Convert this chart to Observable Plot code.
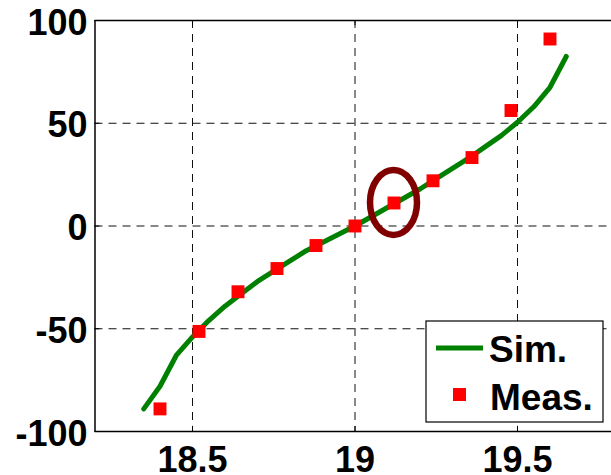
<!DOCTYPE html>
<html>
<head>
<meta charset="utf-8">
<script src="https://cdn.jsdelivr.net/npm/d3@7"></script>
<script src="https://cdn.jsdelivr.net/npm/@observablehq/plot@0.6"></script>
<style>
  html, body { margin: 0; padding: 0; background: #fff; overflow: hidden; }
  #chart { position: absolute; left: 0; top: 0; width: 611px; height: 475px; overflow: hidden; }
  #chart svg { display: block; font-family: "Liberation Sans", Arial, sans-serif; max-width: none !important; }
</style>
</head>
<body>
<div id="chart"></div>
<script>
// Simulated curve
const simX = [18.35, 18.40, 18.45, 18.50, 18.55, 18.60, 18.65, 18.70, 18.75, 18.80, 18.85, 18.90, 18.95,
              19.00, 19.05, 19.10, 19.15, 19.20, 19.25, 19.30, 19.35, 19.40, 19.45, 19.50, 19.55, 19.60, 19.65];
const simY = [-89, -78, -63, -54, -46, -39, -33, -27, -22, -17, -12, -8, -4,
              0, 4.5, 9, 13.5, 18, 23, 28, 33, 38.5, 44, 50.5, 58, 67.5, 82.5];

// Measured points
const measX = [18.40, 18.52, 18.64, 18.76, 18.88, 19.00, 19.12, 19.24, 19.36, 19.48, 19.60];
const measY = [-89, -51.3, -32, -20.7, -9.5, 0, 11.2, 22, 33.3, 56.2, 91];

// Index of the circled measurement
const highlightIndex = 6;

const xTicks = [18.5, 19, 19.5];
const yTicks = [-100, -50, 0, 50, 100];
const xLimits = [18.2, 19.8];
const yLimits = [-100, 100];
const seriesNames = ["Sim.", "Meas."];

const green = "#008000";
const red = "#ff0000";

const sim = simX.map((x, i) => ({x, y: simY[i]}));
const meas = measX.map((x, i) => ({x, y: measY[i]}));

// Ring around one measured point
function highlight(index, {x, y}) {
  return d3.create("svg:ellipse")
    .attr("cx", x(measX[highlightIndex]))
    .attr("cy", y(measY[highlightIndex]))
    .attr("rx", 23.5)
    .attr("ry", 32.5)
    .attr("fill", "none")
    .attr("stroke", "#800000")
    .attr("stroke-width", 6.5)
    .node();
}

// Boxed legend in the lower right corner of the frame
function legend(index, scales, values, dims) {
  const right = dims.width - dims.marginRight;
  const bottom = dims.height - dims.marginBottom;
  const bx = right - 188.5, by = bottom - 110, bw = 177, bh = 101;
  const g = d3.create("svg:g");
  g.append("rect").attr("x", bx).attr("y", by).attr("width", bw).attr("height", bh)
    .attr("fill", "#fff").attr("stroke", "#000").attr("stroke-width", 1.2);
  g.append("line").attr("x1", bx + 10).attr("x2", bx + 57).attr("y1", by + 27).attr("y2", by + 27)
    .attr("stroke", green).attr("stroke-width", 5);
  g.append("rect").attr("x", bx + 27).attr("y", by + 67).attr("width", 13).attr("height", 13)
    .attr("fill", red);
  const t = g.append("g").attr("font-size", 37).attr("font-weight", "bold")
    .attr("fill", "#000").attr("text-anchor", "start");
  t.append("text").attr("x", bx + 63).attr("y", by + 41).text(seriesNames[0]);
  t.append("text").attr("x", bx + 64).attr("y", by + 89).text(seriesNames[1]);
  return g.node();
}

const dash = "8,6";

const chart = Plot.plot({
  width: 640,
  height: 475,
  marginLeft: 94.5,
  marginRight: 25.5,
  marginTop: 20,
  marginBottom: 44,
  x: {domain: xLimits},
  y: {domain: yLimits},
  marks: [
    Plot.gridX(xTicks, {stroke: "#111", strokeOpacity: 1, strokeDasharray: dash, strokeWidth: 1}),
    Plot.gridY(yTicks, {stroke: "#111", strokeOpacity: 1, strokeDasharray: dash, strokeWidth: 1}),
    Plot.axisX({ticks: xTicks, tickSize: 0, tickPadding: 14.5, fontSize: 36, fontWeight: "bold",
                tickFormat: d => String(d), label: null}),
    Plot.axisY({ticks: yTicks, tickSize: 0, tickPadding: 7.5, fontSize: 36, fontWeight: "bold",
                tickFormat: d => String(d), label: null, dy: 2.5}),
    // short inward ticks on the box edges
    Plot.ruleX(xTicks, {y1: -100, y2: -97.5, stroke: "#000", strokeWidth: 1}),
    Plot.ruleX(xTicks, {y1: 100, y2: 97.5, stroke: "#000", strokeWidth: 1}),
    Plot.ruleY(yTicks, {x1: 18.2, x2: 18.215, stroke: "#000", strokeWidth: 1}),
    Plot.line(sim, {x: "x", y: "y", stroke: green, strokeWidth: 5, strokeLinejoin: "round"}),
    Plot.dot(meas, {x: "x", y: "y", symbol: "square", r: 7.3, fill: red, stroke: "none"}),
    highlight,
    // axes box: top, bottom and left edges
    Plot.ruleY(yLimits, {stroke: "#000", strokeWidth: 1.5}),
    Plot.ruleX([xLimits[0]], {stroke: "#000", strokeWidth: 1.5}),
    legend
  ]
});

document.getElementById("chart").appendChild(chart);
</script>
</body>
</html>
